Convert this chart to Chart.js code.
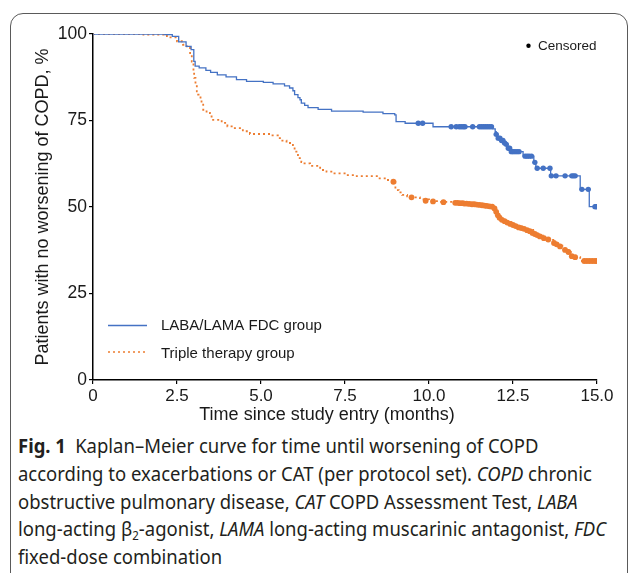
<!DOCTYPE html>
<html><head><meta charset="utf-8">
<script src="https://cdn.jsdelivr.net/npm/chart.js@4/dist/chart.umd.min.js"></script>
<style>
html,body{margin:0;padding:0;background:#fff;width:630px;height:573px;overflow:hidden;}
#frame{position:absolute;left:10px;top:13px;width:618px;height:640px;border:1.5px solid #5a5a5a;border-radius:13px;box-sizing:border-box;}
#wrap{position:absolute;left:0;top:0;width:630px;height:432px;}
#caption{position:absolute;left:18px;top:432px;font-family:"Noto Sans";font-size:20px;line-height:27.75px;color:#231f20;}
#caption div{white-space:nowrap;transform-origin:0 0;width:max-content;}
#caption sub{font-size:0.62em;vertical-align:-0.3em;line-height:0;}
</style></head>
<body>
<div id="frame"></div>
<div id="wrap"><canvas id="c" width="630" height="432"></canvas></div>
<div id="caption">
<div><b>Fig. 1</b>&ensp;Kaplan–Meier curve for time until worsening of COPD</div>
<div>according to exacerbations or CAT (per protocol set). <i>COPD</i> chronic</div>
<div>obstructive pulmonary disease, <i>CAT</i> COPD Assessment Test, <i>LABA</i></div>
<div id="refline">long-acting β<sub>2</sub>-agonist, <i>LAMA</i> long-acting muscarinic antagonist, <i>FDC</i></div>
<div>fixed-dose combination</div>
</div>
<script>
// ---- data ----
const seriesNames = ['LABA/LAMA FDC group', 'Triple therapy group'];
const xTickValues = [0, 2.5, 5, 7.5, 10, 12.5, 15];
const xTickLabels = ['0', '2.5', '5.0', '7.5', '10.0', '12.5', '15.0'];
const yTickValues = [0, 25, 50, 75, 100];
const yTickLabels = ['0', '25', '50', '75', '100'];

const labaTime = [0,2.14,2.36,2.55,2.77,2.92,3.0,3.04,3.16,3.36,3.5,3.7,3.96,4.27,4.57,5.07,5.36,5.7,5.85,5.95,6.0,6.1,6.16,6.2,6.3,6.4,6.7,7.1,8.04,8.63,8.98,9.02,9.29,10.12,11.9,11.97,12.0,12.05,12.14,12.22,12.3,12.34,12.43,12.8,13.12,13.18,13.62,14.5,14.77,15.0];
const labaSurv = [100,99.8,99.3,97.7,96.4,95.5,92.1,90.7,90.2,89.5,88.9,88.2,87.6,86.8,86.3,86.0,85.6,85.0,84.4,83.6,82.5,81.6,81.0,80.0,79.4,78.7,78.2,77.7,77.4,77.0,76.6,74.7,74.2,73.2,72.6,71.8,71.0,69.9,69.2,68.5,68.1,67.0,66.0,64.7,62.9,61.2,59.0,55.1,50.1,50.1];

const tripleTime = [0,1.5,2.2,2.5,2.68,2.79,2.89,2.94,2.99,3.01,3.05,3.09,3.13,3.2,3.23,3.28,3.38,3.48,3.53,3.83,4.0,4.17,4.46,4.67,5.27,5.5,5.6,5.76,5.95,6.0,6.1,6.2,6.26,6.46,6.76,6.95,7.15,7.55,7.85,8.5,8.74,8.9,9.0,9.1,9.2,9.35,9.5,9.73,10.0,10.3,10.7,11.0,11.3,11.6,11.9,11.97,12.0,12.05,12.1,12.2,12.3,12.45,12.6,12.75,12.9,13.1,13.25,13.4,13.55,13.7,13.85,14.0,14.15,14.22,14.35,14.5,15.0];
const tripleSurv = [100,99.8,99.0,97.9,96.9,96.0,94.5,92.0,89.2,87.3,85.5,83.4,82.5,80.8,80.0,78.1,77.2,76.2,75.2,74.3,73.3,72.8,71.9,71.1,70.7,69.9,69.2,68.5,67.5,66.0,64.1,63.0,62.6,61.9,60.7,60.2,59.7,59.2,58.9,58.3,57.8,57.3,54.9,54.2,53.5,53.1,52.8,52.2,51.7,51.5,51.3,51.1,50.8,50.4,50.1,49.3,48.2,47.3,46.7,46.1,45.6,45.0,44.3,43.9,43.4,42.4,41.7,41.0,40.5,39.5,38.8,37.6,37.0,35.8,35.5,34.4,34.4];

const labaCensTime = [9.68,9.81,10.66,10.81,10.9,10.96,11.02,11.07,11.3,11.5,11.56,11.62,11.68,11.74,11.8,11.86,12.0,12.06,12.11,12.16,12.2,12.25,12.3,12.36,12.4,12.45,12.5,12.56,12.62,12.68,12.86,12.92,12.98,13.05,13.15,13.22,13.4,13.6,13.64,13.78,14.05,14.25,14.3,14.35,14.55,14.74,14.94,14.97,15.0];
const labaCensSurv = [74.2,74.2,73.2,73.2,73.2,73.2,73.2,73.2,73.2,73.2,73.2,73.2,73.2,73.2,73.2,73.2,71.0,69.9,69.9,69.2,69.2,68.5,68.1,67.0,67.0,66.0,66.0,66.0,66.0,66.0,64.7,64.7,64.7,64.7,62.9,61.2,61.2,61.2,59.0,59.0,59.0,59.0,59.0,59.0,55.1,55.1,50.1,50.1,50.1];

const tripleCensTime = [8.94,9.48,9.9,10.12,10.43,10.78,10.85,10.92,11.0,11.05,11.12,11.2,11.28,11.35,11.42,11.5,11.58,11.65,11.72,11.8,11.88,11.95,12.0,12.05,12.1,12.17,12.25,12.33,12.42,12.5,12.58,12.67,12.75,12.83,12.92,13.0,13.08,13.15,13.22,13.3,13.42,13.55,13.72,13.8,13.9,14.05,14.15,14.25,14.35,14.62,14.7,14.78,14.86,14.94,15.0];
const tripleCensSurv = [57.3,52.8,51.8,51.6,51.4,51.2,51.2,51.1,51.1,51.0,51.0,50.9,50.8,50.8,50.7,50.6,50.5,50.4,50.3,50.2,50.1,49.6,48.6,47.6,46.9,46.3,45.9,45.5,45.1,44.8,44.5,44.1,43.9,43.7,43.3,43.0,42.5,42.2,41.9,41.5,41.0,40.6,39.6,39.2,38.6,37.6,37.0,35.8,35.5,34.4,34.4,34.4,34.4,34.4,34.4];

const censoredLabel = 'Censored';
const xTitle = 'Time since study entry (months)';
const yTitle = 'Patients with no worsening of COPD, %';

// ---- styles ----
const BLUE = '#4472C4';
const ORANGE = '#ED7D31';
const FONT = '"Liberation Sans", Arial, sans-serif';
const TXT = '#1a1a1a';

const pts = (xs, ys) => xs.map((x, i) => ({x, y: ys[i]}));

const overlay = {
  id: 'overlay',
  afterDraw(chart) {
    const ctx = chart.ctx;
    ctx.save();
    ctx.fillStyle = TXT;
    ctx.font = '18px ' + FONT;
    ctx.textAlign = 'center';
    ctx.textBaseline = 'middle';
    ctx.fillText(xTitle, 327, 415);
    ctx.textAlign = 'left';
    ctx.font = '15px ' + FONT;
    ctx.strokeStyle = BLUE; ctx.lineWidth = 1.3;
    ctx.beginPath(); ctx.moveTo(108, 325.5); ctx.lineTo(147, 325.5); ctx.stroke();
    ctx.fillText(seriesNames[0], 161, 326);
    ctx.strokeStyle = ORANGE; ctx.lineWidth = 1.6; ctx.setLineDash([2, 3]);
    ctx.beginPath(); ctx.moveTo(108, 352); ctx.lineTo(147, 352); ctx.stroke();
    ctx.setLineDash([]);
    ctx.fillText(seriesNames[1], 161, 354);
    ctx.font = '13.5px ' + FONT;
    ctx.fillStyle = '#000';
    ctx.beginPath(); ctx.arc(528.5, 45.7, 2.2, 0, Math.PI * 2); ctx.fill();
    ctx.fillStyle = TXT;
    ctx.fillText(censoredLabel, 538, 46);
    ctx.restore();
  }
};

new Chart(document.getElementById('c'), {
  type: 'line',
  data: {
    datasets: [
      {label: seriesNames[0], data: pts(labaTime, labaSurv), stepped: true, borderColor: BLUE, borderWidth: 1.3, pointRadius: 0, fill: false},
      {label: seriesNames[1], data: pts(tripleTime, tripleSurv), stepped: true, borderColor: ORANGE, borderWidth: 1.8, borderDash: [2, 3], pointRadius: 0, fill: false},
      {label: 'c1', data: pts(labaCensTime, labaCensSurv), showLine: false, pointRadius: 2.7, pointBackgroundColor: BLUE, pointBorderWidth: 0, borderColor: BLUE},
      {label: 'c2', data: pts(tripleCensTime, tripleCensSurv), showLine: false, pointRadius: 2.9, pointBackgroundColor: ORANGE, pointBorderWidth: 0, borderColor: ORANGE}
    ]
  },
  options: {
    responsive: false,
    animation: false,
    events: [],
    layout: {padding: {top: 34, right: 33, left: 0, bottom: 0}},
    plugins: {legend: {display: false}, tooltip: {enabled: false}},
    scales: {
      x: {
        type: 'linear', min: 0, max: 15,
        afterBuildTicks: s => { s.ticks = xTickValues.map(v => ({value: v})); },
        afterFit: s => { s.height = 52; },
        ticks: {
          callback: (v) => xTickLabels[xTickValues.indexOf(v)],
          color: TXT, font: {family: FONT, size: 17}, padding: 2, maxRotation: 0, autoSkip: false
        },
        grid: {display: true, drawOnChartArea: false, drawTicks: true, tickLength: 4, color: '#000', lineWidth: 1.2},
        border: {display: true, color: '#000', width: 1.5},
        title: {display: false}
      },
      y: {
        min: 0, max: 100,
        afterBuildTicks: s => { s.ticks = yTickValues.map(v => ({value: v})); },
        afterFit: s => { s.width = 93; },
        ticks: {
          callback: (v) => yTickLabels[yTickValues.indexOf(v)],
          color: TXT, font: {family: FONT, size: 17.5}, padding: 2, autoSkip: false
        },
        grid: {display: true, drawOnChartArea: false, drawTicks: true, tickLength: 4, color: '#000', lineWidth: 1.2},
        border: {display: true, color: '#000', width: 1.5},
        title: {display: true, text: yTitle, color: TXT, font: {family: FONT, size: 18}, padding: {top: 32, bottom: 0}}
      }
    }
  },
  plugins: [overlay]
});

// one horizontal scale for the whole caption, taken from its longest line
const refLine = document.getElementById('refline');
const k = 588 / refLine.getBoundingClientRect().width;
document.querySelectorAll('#caption div').forEach(d => {
  d.style.transform = 'scaleX(' + k.toFixed(4) + ')';
});
</script>
</body></html>
